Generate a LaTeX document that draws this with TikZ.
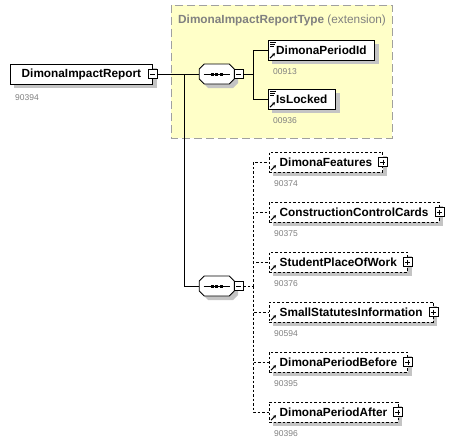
\documentclass[tikz,border=0pt]{standalone}
\usepackage{fontspec}
\setmainfont{Liberation Sans}
\usetikzlibrary{positioning, calc, backgrounds, arrows.meta}

\definecolor{typefill}{HTML}{FFFFC8}
\definecolor{typeline}{HTML}{A0A0A0}
\definecolor{numgrey}{HTML}{808080}
\definecolor{shadegrey}{HTML}{C4C4C4}

\tikzset{
  elbox/.style={draw, fill=white, anchor=west, minimum height=20pt, inner xsep=8pt, inner ysep=0pt,
    font=\bfseries\fontsize{11.8}{13}\selectfont},
  optbox/.style={elbox, inner xsep=10.5pt, dash pattern=on 2.5pt off 2pt},
  seqbox/.style={anchor=west, minimum width=35pt, minimum height=20pt, inner sep=0pt},
  pmbox/.style={draw, fill=white, minimum size=9pt, inner sep=0pt},
  num/.style={text=numgrey, inner sep=0pt, font=\fontsize{8.5}{10}\selectfont},
  link/.style={line width=0.8pt},
  optlink/.style={link, dash pattern=on 2.5pt off 2pt},
  refarrow/.style={line width=1.1pt, -{Stealth[length=3pt,width=3.5pt]}}
}

\begin{document}
\begin{tikzpicture}[x=1pt, y=-1pt]
  \useasboundingbox (0,0) rectangle (465,444);

  % extension title
  \node[anchor=west, text=numgrey, inner sep=0pt, font=\fontsize{11.8}{13}\selectfont] (typename) at (178,20)
    {\textbf{DimonaImpactReportType} (extension)};

  % root element
  \node[elbox, inner xsep=11.5pt] (report) at (10,74) {DimonaImpactReport};
  \node[pmbox] (report-x) at (report.east) {};
  \draw ($(report-x.center)+(-2.5,0)$) -- ++(5,0);
  \node[num, below right=10pt and 5pt of report.south west] {90394};

  % sequences
  \node[seqbox] (seq1) at (199,74) {};
  \node[seqbox] (seq2) at (199,286) {};
  \foreach \s in {seq1, seq2} {
    \draw[fill=white, line width=0.9pt] (\s.center) +(-17.5,-5) -- +(-12.5,-10) -- +(12.5,-10) -- +(17.5,-5)
      -- +(17.5,5) -- +(12.5,10) -- +(-12.5,10) -- +(-17.5,5) -- cycle;
    \draw[line width=1pt] ($(\s.center)+(-13,0)$) -- ++(26,0);
    \foreach \d in {-4.5,0,4.5}
      \fill ($(\s.center)+(\d,0)$) +(-1.4,-1.5) rectangle +(1.4,1.5);
    \node[pmbox, right=-0.5pt of \s] (\s-x) {};
    \draw ($(\s-x.center)+(-2.5,0)$) -- ++(5,0);
  }

  \foreach \name/\lbl/\num/\y in {periodid/DimonaPeriodId/00913/50, locked/IsLocked/00936/99} {
    \node[elbox] (\name) at (268,\y) {\lbl};
    \node[num, below right=8pt and 5pt of \name.south west] {\num};
    \foreach \k in {0,2,4}
      \draw[line width=0.7pt] ($(\name.north west)+(2,2.5+\k)$) -- ++(6-\k/2,0);
    \draw[refarrow] ($(\name.south west)+(2,-2)$) -- ++(5,-5);
  }

  \foreach \name/\lbl/\num [count=\i] in {features/DimonaFeatures/90374,
      cards/ConstructionControlCards/90375, student/StudentPlaceOfWork/90376,
      statutes/SmallStatutesInformation/90594, before/DimonaPeriodBefore/90395,
      after/DimonaPeriodAfter/90396} {
    \node[optbox] (\name) at (269,112+50*\i) {\lbl};
    \node[pmbox] (\name-x) at (\name.east) {};
    \draw ($(\name-x.center)+(-2.5,0)$) -- ++(5,0);
    \draw ($(\name-x.center)+(0,-2.5)$) -- ++(0,5);
    \node[num, below right=8pt and 5pt of \name.south west] {\num};
    \draw[refarrow] ($(\name.south west)+(2,-2)$) -- ++(5,-5);
  }

  % frame and shadows
  \begin{scope}[on background layer]
    \draw[typeline, fill=typefill, dash pattern=on 8pt off 4pt] (171,5) rectangle (392,138);
    \foreach \n in {report, periodid, locked, features, cards, student, statutes, before, after}
      \fill[shadegrey] ($(\n.south west)+(4,4)$) rectangle ($(\n.north east)+(4,4)$);
    \foreach \s in {seq1, seq2}
      \fill[shadegrey] ($(\s.center)+(4,4)$) +(-17.5,-5) -- +(-12.5,-10) -- +(12.5,-10) -- +(17.5,-5)
        -- +(17.5,5) -- +(12.5,10) -- +(-12.5,10) -- +(-17.5,5) -- cycle;
  \end{scope}

  % connectors
  \coordinate (split) at (184,74);
  \coordinate (fork1) at (253,74);
  \coordinate (fork2) at (253,286);
  \draw[link] (report-x.east) -- (seq1.west);
  \draw[link] (split) |- (seq2.west);
  \draw[link] (seq1-x.east) -- (fork1);
  \draw[link] (fork1) |- (periodid.west);
  \draw[link] (fork1) |- (locked.west);
  \draw[optlink] (seq2-x.east) -- (fork2);
  \foreach \name in {features, cards, student, statutes, before, after}
    \draw[optlink] (fork2) |- (\name.west);
\end{tikzpicture}
\end{document}
